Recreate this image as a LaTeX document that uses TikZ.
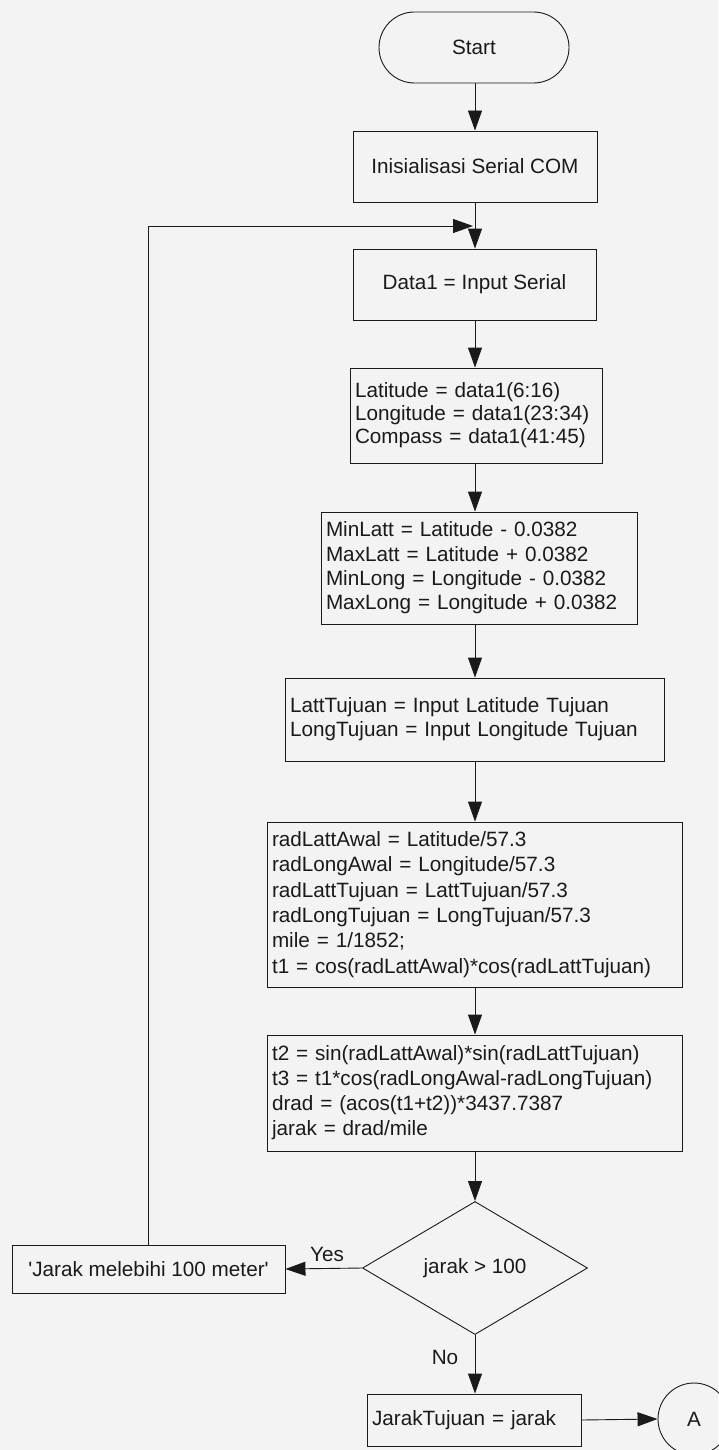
\documentclass[tikz,border=0pt]{standalone}
\usepackage{fontspec}
\setmainfont{Liberation Sans}
\usetikzlibrary{arrows.meta,shapes.geometric}
\definecolor{pagebg}{HTML}{F3F3F3}
\definecolor{ink}{HTML}{1A1A1A}
\newcommand{\fs}[1]{\fontsize{20.7}{#1}\selectfont}
\begin{document}
\begin{tikzpicture}[x=1pt,y=-1pt,
  every node/.style={font=\fs{24}, text=ink},
  line/.style={draw=ink, line width=0.9pt},
  flow/.style={line, -{Triangle[length=20pt,width=14pt]}},
  proc/.style={line, rectangle, inner xsep=5pt, inner ysep=0pt},
  terminal/.style={line, rectangle, rounded corners=35.5pt, inner sep=0pt},
  decision/.style={line, diamond, inner sep=0pt},
  connector/.style={line, circle, inner sep=0pt}
]
% page
\fill[pagebg] (0,0) rectangle (718,1450);
\useasboundingbox (0,0) rectangle (718,1450);

% main column
\coordinate (axis) at (475,0);
\node[terminal, minimum width=190pt, minimum height=71pt] (start) at (474,47.5) {Start};
\node[proc, minimum width=244pt, minimum height=71pt] (init) at (475,166.5) {Inisialisasi Serial COM};
\node[proc, minimum width=243pt, minimum height=71pt] (data) at (474.5,284.5) {Data1 = Input Serial};
\node[proc, text width=242pt, align=left, minimum height=95pt, font=\fs{23}] (parse) at (476,415.5)
  {Latitude = data1(6:16)\\Longitude = data1(23:34)\\Compass = data1(41:45)};
\node[proc, text width=306pt, align=left, minimum height=112pt, font=\fs{24.4}] (limits) at (479,568)
  {MinLatt = Latitude - 0.0382\\MaxLatt = Latitude + 0.0382\\MinLong = Longitude - 0.0382\\MaxLong = Longitude + 0.0382};
\node[proc, text width=369pt, align=left, minimum height=83pt, font=\fs{24}] (target) at (474.5,719.5)
  {LattTujuan = Input Latitude Tujuan\\LongTujuan = Input Longitude Tujuan};
\node[proc, text width=405pt, align=left, minimum height=165pt, font=\fs{25.4}] (rad) at (474.5,904.5)
  {radLattAwal = Latitude/57.3\\radLongAwal = Longitude/57.3\\radLattTujuan = LattTujuan/57.3\\radLongTujuan = LongTujuan/57.3\\mile = 1/1852;\\t1 = cos(radLattAwal)*cos(radLattTujuan)};
\node[proc, text width=405pt, align=left, minimum height=116pt, font=\fs{25}] (dist) at (474.5,1093)
  {t2 = sin(radLattAwal)*sin(radLattTujuan)\\t3 = t1*cos(radLongAwal-radLongTujuan)\\drad = (acos(t1+t2))*3437.7387\\jarak = drad/mile};
\node[decision, minimum width=225pt, minimum height=133pt] (check) at (475,1268) {jarak > 100};
\node[proc, minimum width=273pt, minimum height=48pt] (warn) at (148.5,1269)
  {\textquotesingle Jarak melebihi 100 meter\textquotesingle};
\node[proc, text width=204pt, align=left, minimum height=52pt] (result) at (474,1420) {JarakTujuan = jarak};
\node[connector, minimum size=72pt] (conA) at (694,1419) {A};

% labels
\node (yes) at (327,1254) {Yes};
\node (no) at (445,1357) {No};

% connectors
\draw[flow] (start.south -| axis) -- (init.north -| axis);
\draw[flow] (init.south -| axis) -- (data.north -| axis);
\draw[flow] (data.south -| axis) -- (parse.north -| axis);
\draw[flow] (parse.south -| axis) -- (limits.north -| axis);
\draw[flow] (limits.south -| axis) -- (target.north -| axis);
\draw[flow] (target.south -| axis) -- (rad.north -| axis);
\draw[flow] (rad.south -| axis) -- (dist.north -| axis);
\draw[flow] (dist.south -| axis) -- (check.north);
\draw[flow] (check.west) -- (warn.east);
\draw[flow] (check.south) -- (result.north -| check.south);
\draw[flow] (result.east) -- (conA.west);
\coordinate (rejoin) at (473,226);
\draw[flow] (warn.north) |- (rejoin);
\end{tikzpicture}
\end{document}
